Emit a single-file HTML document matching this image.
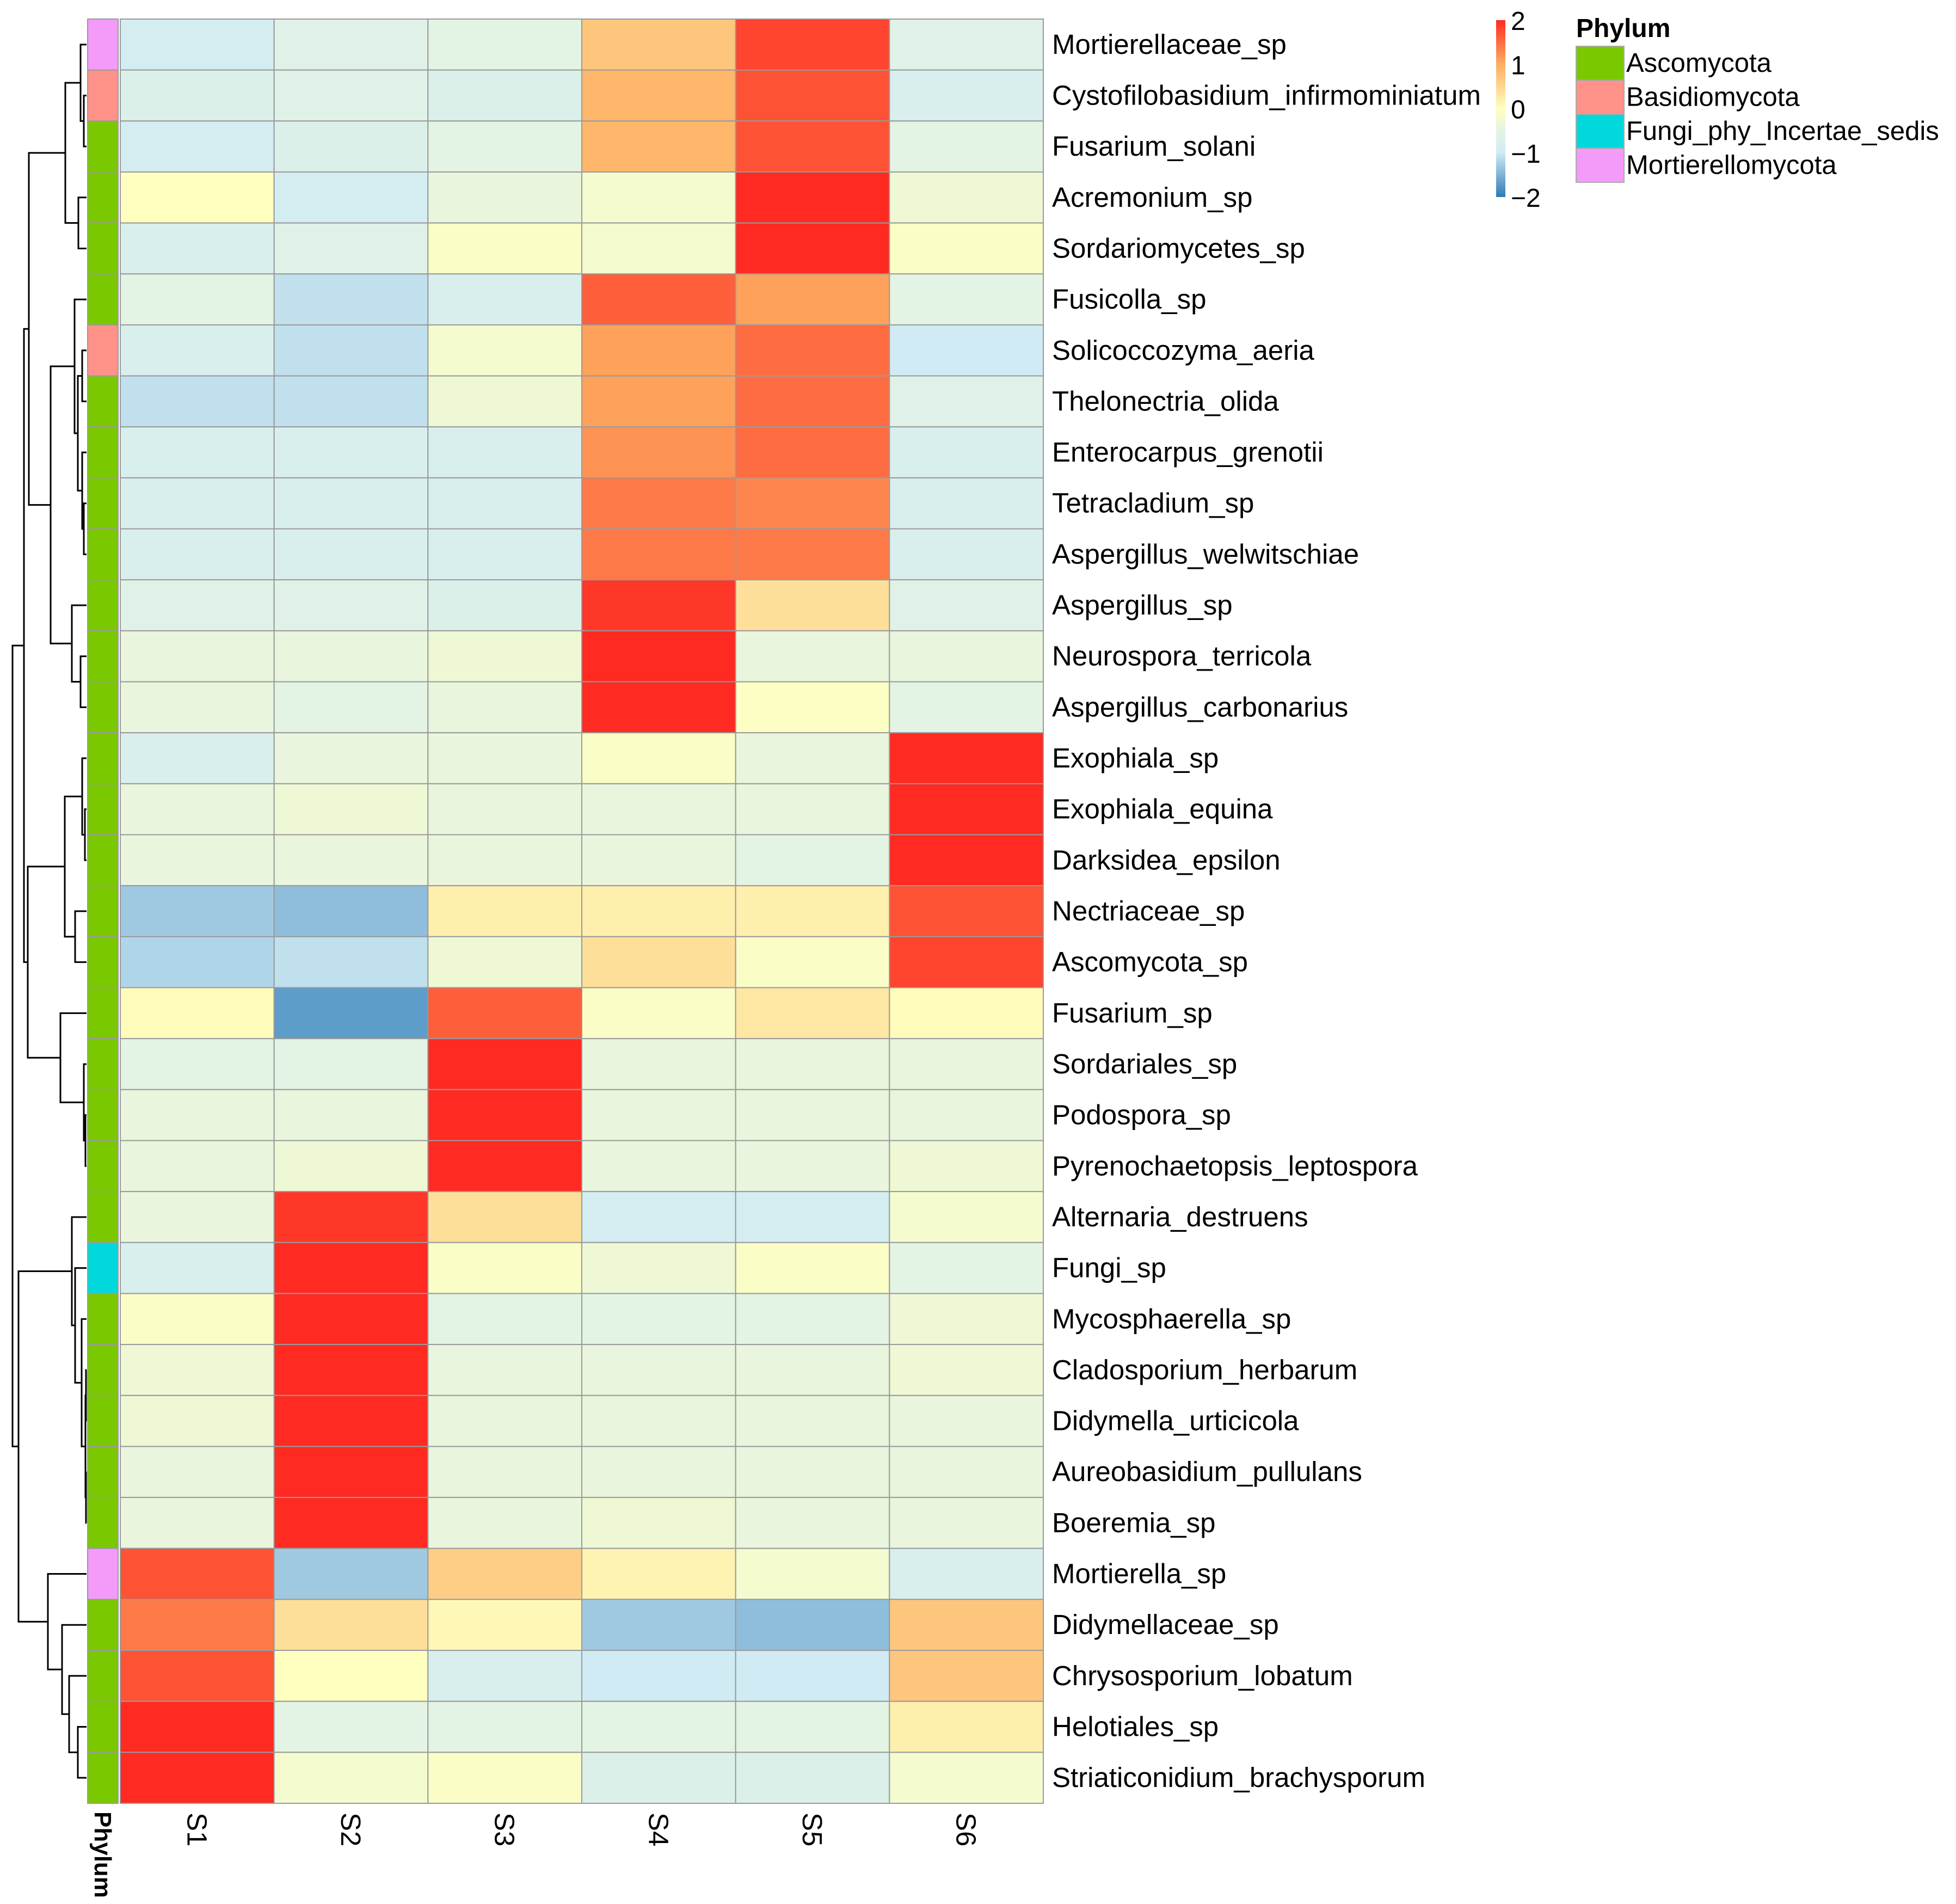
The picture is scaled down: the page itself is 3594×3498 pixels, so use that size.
<!DOCTYPE html>
<html><head><meta charset="utf-8"><style>
html,body{margin:0;padding:0;background:#fff}
svg{display:block;font-family:"Liberation Sans",sans-serif}
</style></head><body>
<svg id="chart" width="3594" height="3498" viewBox="0 0 3594 3498" xmlns="http://www.w3.org/2000/svg"></svg>
<script>
const taxa=["Mortierellaceae_sp","Cystofilobasidium_infirmominiatum","Fusarium_solani","Acremonium_sp","Sordariomycetes_sp","Fusicolla_sp","Solicoccozyma_aeria","Thelonectria_olida","Enterocarpus_grenotii","Tetracladium_sp","Aspergillus_welwitschiae","Aspergillus_sp","Neurospora_terricola","Aspergillus_carbonarius","Exophiala_sp","Exophiala_equina","Darksidea_epsilon","Nectriaceae_sp","Ascomycota_sp","Fusarium_sp","Sordariales_sp","Podospora_sp","Pyrenochaetopsis_leptospora","Alternaria_destruens","Fungi_sp","Mycosphaerella_sp","Cladosporium_herbarum","Didymella_urticicola","Aureobasidium_pullulans","Boeremia_sp","Mortierella_sp","Didymellaceae_sp","Chrysosporium_lobatum","Helotiales_sp","Striaticonidium_brachysporum"];
const samples=["S1","S2","S3","S4","S5","S6"];
const values=[
[-0.9,-0.6,-0.5,0.7,1.8,-0.6],[-0.7,-0.6,-0.7,0.9,1.7,-0.8],[-0.9,-0.7,-0.5,0.9,1.7,-0.5],
[0.0,-0.9,-0.4,-0.2,2.0,-0.3],[-0.8,-0.6,-0.1,-0.2,2.0,-0.1],[-0.5,-1.1,-0.8,1.6,1.1,-0.5],
[-0.8,-1.1,-0.2,1.1,1.5,-1.0],[-1.1,-1.1,-0.3,1.1,1.5,-0.6],[-0.8,-0.8,-0.8,1.2,1.5,-0.8],
[-0.8,-0.8,-0.8,1.4,1.3,-0.8],[-0.8,-0.8,-0.8,1.4,1.4,-0.8],[-0.6,-0.6,-0.7,1.9,0.4,-0.6],
[-0.4,-0.4,-0.3,2.0,-0.4,-0.4],[-0.4,-0.5,-0.4,2.0,-0.05,-0.5],[-0.8,-0.4,-0.4,-0.1,-0.4,2.0],
[-0.4,-0.3,-0.4,-0.4,-0.4,2.0],[-0.4,-0.4,-0.4,-0.4,-0.5,2.0],[-1.3,-1.4,0.2,0.2,0.2,1.7],
[-1.2,-1.1,-0.3,0.4,-0.1,1.8],[0.05,-1.7,1.6,-0.1,0.3,0.05],[-0.5,-0.5,2.0,-0.4,-0.4,-0.4],
[-0.4,-0.4,2.0,-0.4,-0.4,-0.4],[-0.4,-0.3,2.0,-0.4,-0.4,-0.3],[-0.4,1.9,0.4,-0.9,-0.9,-0.2],
[-0.8,2.0,-0.1,-0.3,-0.1,-0.5],[-0.1,2.0,-0.5,-0.5,-0.5,-0.3],[-0.3,2.0,-0.4,-0.4,-0.4,-0.3],
[-0.3,2.0,-0.4,-0.4,-0.4,-0.4],[-0.4,2.0,-0.4,-0.4,-0.4,-0.4],[-0.4,2.0,-0.4,-0.3,-0.4,-0.4],
[1.7,-1.3,0.6,0.15,-0.2,-0.8],[1.4,0.4,0.1,-1.3,-1.4,0.7],[1.7,0.0,-0.8,-1.0,-1.0,0.7],
[2.0,-0.5,-0.5,-0.5,-0.5,0.2],[2.0,-0.2,-0.1,-0.7,-0.7,-0.2]];
const phylum=["M","B","A","A","A","A","B","A","A","A","A","A","A","A","A","A","A","A","A","A","A","A","A","A","F","A","A","A","A","A","M","A","A","A","A"];
const phylaNames=["Ascomycota","Basidiomycota","Fungi_phy_Incertae_sedis","Mortierellomycota"];
const phylaKeys=["A","B","F","M"];
const phylaColors={A:"#7AC900",B:"#FF9289",F:"#00D8DC",M:"#F49BFA"};
const colorTicks=[2,1,0,-1,-2];
// tree: [height, left, right]; leaf = row index
const tree=[23,
  [44,
    [53,
      [120,[148,0,[154,1,2]],[144,3,4]],
      [93,[137,5,[143,[151,6,7],[151,8,[154,9,10]]]],[132,11,[148,12,13]]]],
    [51,
      [119,[151,14,[156,15,16]],[138,17,18]],
      [111,19,[154,20,[157,21,22]]]]],
  [34,
    [132,23,[138,24,[150,25,[157,[158,26,27],[158,28,29]]]]],
    [88,30,[114,31,[127,32,[143,33,34]]]]]];

const NS="http://www.w3.org/2000/svg";
const svg=document.getElementById('chart');
function el(t,a,p){const e=document.createElementNS(NS,t);for(const k in a)e.setAttribute(k,a[k]);(p||svg).appendChild(e);return e;}
const X0=221,X1=1917,Y0=35,Y1=3313;
const cw=(X1-X0)/samples.length, rh=(Y1-Y0)/taxa.length;
const xS=i=>X0+i*cw, yS=i=>Y0+i*rh;
const stops=[[-2,[44,123,182]],[-1,[208,235,244]],[-0.5,[228,244,228]],[0,[255,255,191]],[1,[253,174,97]],[2,[255,42,34]]];
function col(v){v=Math.max(-2,Math.min(2,v));for(let i=0;i<stops.length-1;i++){const[a,ca]=stops[i],[b,cb]=stops[i+1];if(v<=b){const t=(v-a)/(b-a);return 'rgb('+ca.map((c,j)=>Math.round(c+(cb[j]-c)*t)).join(',')+')';}}}

const gCells=el('g',{});


values.forEach((row,r)=>row.forEach((v,c)=>{
  const e=el('rect',{x:xS(c),y:yS(r),width:cw,height:rh,fill:col(v),stroke:'#9a9a9a','stroke-width':2},gCells);
  
  
}));
// annotation
const AX=161,AW=56;
phylum.forEach((p,r)=>{
  const e=el('rect',{x:AX,y:yS(r),width:AW,height:rh,fill:phylaColors[p],stroke:'#9a9a9a','stroke-width':2});
  
  
});
const pl=el('text',{x:0,y:0,'font-size':44,'font-weight':'bold',transform:'translate('+(AX+AW/2-15)+',3328) rotate(90)'});
pl.textContent='Phylum';


// row labels
taxa.forEach((t,r)=>{
  const e=el('text',{x:1933,y:yS(r)+rh/2+17,'font-size':51,fill:'#000'});
  e.textContent=t;
  
  
});
// column labels
samples.forEach((s,c)=>{
  const e=el('text',{x:0,y:0,'font-size':51,transform:'translate('+(xS(c)+cw/2-18)+',3330) rotate(90)'});
  e.textContent=s;
  
  
});
// dendrogram
const gT=el('g',{stroke:'#000','stroke-width':3,fill:'none'});


const LEAFX=159;
function draw(n){
  if(typeof n==='number')return{x:LEAFX,y:yS(n)+rh/2};
  const a=draw(n[1]),b=draw(n[2]),x=n[0];
  el('path',{d:`M${a.x},${a.y}H${x}V${b.y}H${b.x}`},gT);
  return{x:x,y:(a.y+b.y)/2};
}
draw(tree);
// color bar
const CBX=2749,CBW=17,CBY0=37,CBY1=362;
const defs=el('defs',{});
const lg=el('linearGradient',{id:'cb',x1:0,y1:1,x2:0,y2:0},defs);
stops.forEach(s=>el('stop',{offset:((s[0]+2)/4*100)+'%','stop-color':'rgb('+s[1].join(',')+')'},lg));
const cb=el('rect',{x:CBX,y:CBY0,width:CBW,height:CBY1-CBY0,fill:'url(#cb)'});


colorTicks.forEach(v=>{
  const y=CBY0+(2-v)/4*(CBY1-CBY0);
  const e=el('text',{x:2776,y:y+18,'font-size':48});
  e.textContent=v<0?'\u2212'+(-v):String(v);
  
  
});
// phylum legend
const lt=el('text',{x:2896,y:68,'font-size':48,'font-weight':'bold'});
lt.textContent='Phylum';


phylaKeys.forEach((k,i)=>{
  const y=85+i*62.5;
  const s=el('rect',{x:2896,y:y,width:88,height:62.5,fill:phylaColors[k],stroke:'#aaa','stroke-width':2});
  
  
  const t=el('text',{x:2988,y:y+47,'font-size':49});
  t.textContent=phylaNames[i];
  
  
});
</script>
</body></html>
